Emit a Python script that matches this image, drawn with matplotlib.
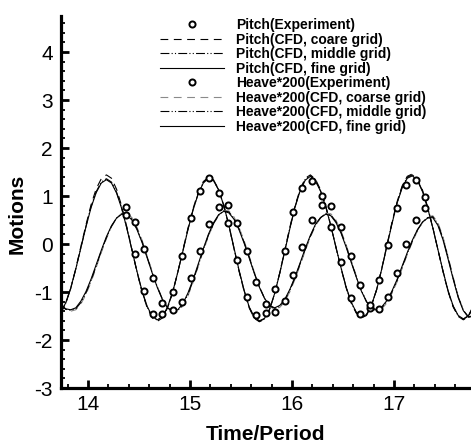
import matplotlib
matplotlib.use("Agg")
import matplotlib.pyplot as plt
from matplotlib.ticker import MultipleLocator

plt.rcParams['font.family'] = ['Liberation Sans', 'DejaVu Sans']
plt.rcParams['axes.unicode_minus'] = False

# ---------------- data ----------------
time_exp = [14.37, 14.46, 14.55, 14.64, 14.73, 14.83, 14.92, 15.01, 15.10, 15.19,
            15.28, 15.375, 15.465, 15.56, 15.65, 15.745, 15.83, 15.93, 16.01, 16.10,
            16.20, 16.29, 16.38, 16.48, 16.575, 16.67, 16.76, 16.85, 16.94, 17.03,
            17.12, 17.215, 17.30]
pitch_exp = [0.60, -0.21, -0.98, -1.46, -1.46, -1.01, -0.26, 0.55, 1.11, 1.37,
             1.06, 0.44, -0.34, -1.10, -1.48, -1.44, -0.94, -0.14, 0.67, 1.16,
             1.31, 1.01, 0.35, -0.37, -1.13, -1.46, -1.33, -0.76, -0.02, 0.76,
             1.23, 1.33, 0.97]
heave_exp = [0.78, 0.45, -0.11, -0.71, -1.22, -1.375, -1.20, -0.71, -0.15, 0.42,
             0.78, 0.81, 0.44, -0.15, -0.80, -1.24, -1.42, -1.18, -0.65, -0.06,
             0.49, 0.81, 0.79, 0.36, -0.26, -0.85, -1.27, -1.36, -1.10, -0.60,
             0.01, 0.50, 0.76]

time_cfd = [13.73, 13.78, 13.83, 13.88, 13.93, 13.98, 14.03, 14.08, 14.13, 14.18,
            14.23, 14.28, 14.33, 14.38, 14.43, 14.48, 14.53, 14.58, 14.63, 14.68,
            14.73, 14.78, 14.83, 14.88, 14.93, 14.98, 15.03, 15.08, 15.13, 15.18,
            15.23, 15.28, 15.33, 15.38, 15.43, 15.48, 15.53, 15.58, 15.63, 15.68,
            15.73, 15.78, 15.83, 15.88, 15.93, 15.98, 16.03, 16.08, 16.13, 16.18,
            16.23, 16.28, 16.33, 16.38, 16.43, 16.48, 16.53, 16.58, 16.63, 16.68,
            16.73, 16.78, 16.83, 16.88, 16.93, 16.98, 17.03, 17.08, 17.13, 17.18,
            17.23, 17.28, 17.33, 17.38, 17.43, 17.48, 17.53, 17.58, 17.63, 17.68,
            17.73, 17.78]

pitch_coarse = [-1.45, -1.25, -0.93, -0.51, -0.05, 0.40, 0.82, 1.15, 1.36, 1.44,
                1.37, 1.14, 0.79, 0.36, -0.11, -0.58, -1.00, -1.33, -1.54, -1.61,
                -1.54, -1.33, -1.01, -0.59, -0.13, 0.33, 0.74, 1.07, 1.30, 1.39,
                1.34, 1.14, 0.81, 0.39, -0.09, -0.56, -0.98, -1.33, -1.55, -1.62,
                -1.57, -1.37, -1.03, -0.60, -0.12, 0.36, 0.80, 1.14, 1.37, 1.44,
                1.35, 1.13, 0.80, 0.39, -0.06, -0.50, -0.91, -1.23, -1.44, -1.54,
                -1.49, -1.28, -0.95, -0.51, -0.03, 0.45, 0.88, 1.21, 1.41, 1.46,
                1.36, 1.12, 0.77, 0.35, -0.11, -0.57, -0.99, -1.31, -1.51, -1.58,
                -1.51, -1.30]
pitch_middle = [-1.44, -1.24, -0.93, -0.52, -0.07, 0.37, 0.78, 1.09, 1.29, 1.36,
                1.29, 1.08, 0.75, 0.34, -0.12, -0.58, -0.99, -1.31, -1.52, -1.59,
                -1.52, -1.32, -1.00, -0.59, -0.14, 0.31, 0.72, 1.05, 1.28, 1.38,
                1.33, 1.13, 0.81, 0.40, -0.08, -0.55, -0.97, -1.32, -1.53, -1.61,
                -1.56, -1.36, -1.03, -0.60, -0.13, 0.34, 0.78, 1.12, 1.35, 1.42,
                1.33, 1.11, 0.79, 0.38, -0.06, -0.49, -0.90, -1.22, -1.43, -1.53,
                -1.48, -1.27, -0.95, -0.52, -0.04, 0.43, 0.86, 1.19, 1.39, 1.44,
                1.34, 1.10, 0.76, 0.34, -0.11, -0.56, -0.98, -1.30, -1.50, -1.57,
                -1.50, -1.29]
pitch_fine = [-1.43, -1.23, -0.92, -0.52, -0.08, 0.36, 0.76, 1.07, 1.27, 1.34,
              1.27, 1.06, 0.74, 0.33, -0.12, -0.57, -0.98, -1.30, -1.51, -1.58,
              -1.51, -1.31, -1.00, -0.59, -0.15, 0.30, 0.71, 1.04, 1.27, 1.37,
              1.32, 1.13, 0.81, 0.40, -0.07, -0.54, -0.96, -1.31, -1.52, -1.60,
              -1.55, -1.36, -1.03, -0.61, -0.14, 0.33, 0.77, 1.11, 1.33, 1.41,
              1.31, 1.10, 0.78, 0.38, -0.06, -0.49, -0.89, -1.21, -1.42, -1.52,
              -1.47, -1.27, -0.95, -0.52, -0.05, 0.42, 0.85, 1.17, 1.37, 1.42,
              1.32, 1.09, 0.75, 0.34, -0.11, -0.56, -0.97, -1.29, -1.49, -1.56,
              -1.49, -1.28]

heave_coarse = [-1.24, -1.36, -1.40, -1.37, -1.25, -1.05, -0.79, -0.49, -0.18, 0.11,
                0.36, 0.54, 0.64, 0.65, 0.55, 0.35, 0.08, -0.25, -0.58, -0.89,
                -1.15, -1.34, -1.43, -1.41, -1.29, -1.08, -0.80, -0.47, -0.15, 0.16,
                0.41, 0.60, 0.70, 0.69, 0.57, 0.35, 0.07, -0.25, -0.58, -0.88,
                -1.13, -1.30, -1.36, -1.32, -1.20, -0.99, -0.73, -0.44, -0.14, 0.14,
                0.38, 0.54, 0.64, 0.63, 0.50, 0.28, -0.01, -0.34, -0.66, -0.96,
                -1.20, -1.35, -1.40, -1.35, -1.23, -1.03, -0.79, -0.51, -0.22, 0.04,
                0.27, 0.45, 0.56, 0.59, 0.45, 0.15, -0.26, -0.69, -1.09, -1.38,
                -1.53, -1.52]
heave_middle = [-1.25, -1.36, -1.38, -1.35, -1.22, -1.02, -0.76, -0.46, -0.15, 0.13,
                0.37, 0.54, 0.63, 0.63, 0.52, 0.32, 0.05, -0.27, -0.60, -0.90,
                -1.15, -1.33, -1.41, -1.39, -1.26, -1.05, -0.77, -0.45, -0.12, 0.18,
                0.42, 0.60, 0.69, 0.67, 0.54, 0.32, 0.04, -0.27, -0.60, -0.89,
                -1.13, -1.29, -1.34, -1.30, -1.17, -0.96, -0.70, -0.41, -0.11, 0.16,
                0.40, 0.55, 0.63, 0.61, 0.47, 0.25, -0.04, -0.36, -0.68, -0.97,
                -1.20, -1.34, -1.38, -1.33, -1.20, -1.00, -0.76, -0.48, -0.20, 0.06,
                0.29, 0.45, 0.55, 0.57, 0.42, 0.12, -0.28, -0.71, -1.10, -1.38,
                -1.52, -1.50]
heave_fine = [-1.25, -1.35, -1.37, -1.33, -1.19, -0.99, -0.73, -0.43, -0.13, 0.15,
              0.38, 0.54, 0.62, 0.61, 0.50, 0.30, 0.03, -0.29, -0.61, -0.91,
              -1.16, -1.33, -1.40, -1.37, -1.24, -1.02, -0.74, -0.42, -0.10, 0.20,
              0.44, 0.61, 0.68, 0.65, 0.52, 0.30, 0.02, -0.29, -0.61, -0.90,
              -1.13, -1.28, -1.33, -1.28, -1.15, -0.94, -0.68, -0.39, -0.09, 0.18,
              0.41, 0.55, 0.62, 0.59, 0.45, 0.23, -0.06, -0.38, -0.69, -0.98,
              -1.20, -1.33, -1.37, -1.31, -1.18, -0.98, -0.74, -0.46, -0.18, 0.08,
              0.30, 0.46, 0.54, 0.55, 0.39, 0.09, -0.31, -0.73, -1.12, -1.39,
              -1.52, -1.49]

labels = ["Pitch(Experiment)", "Pitch(CFD, coare grid)", "Pitch(CFD, middle grid)",
          "Pitch(CFD, fine grid)", "Heave*200(Experiment)", "Heave*200(CFD, coarse grid)",
          "Heave*200(CFD, middle grid)", "Heave*200(CFD, fine grid)"]

# ---------------- figure ----------------
fig = plt.figure(figsize=(4.71, 4.45), dpi=100)
ax = fig.add_axes([61/471, 57/445, 410/471, 372/445])

lw = 0.8
dash = (0, (7, 5))
dashdot = (0, (8, 2, 1, 2, 1, 2))
mk = dict(marker='o', ms=4.4, mfc='white', mec='black', mew=1.4, ls='none')

h1, = ax.plot(time_exp, pitch_exp, **mk, zorder=5)
h2, = ax.plot(time_cfd, pitch_coarse, color='black', lw=lw, ls=dash)
h3, = ax.plot(time_cfd, pitch_middle, color='black', lw=lw, ls=dashdot)
h4, = ax.plot(time_cfd, pitch_fine, color='black', lw=lw, ls='-')
h5, = ax.plot(time_exp, heave_exp, **mk, zorder=5)
h6, = ax.plot(time_cfd, heave_coarse, color='#8a8a8a', lw=lw, ls=dash)
h7, = ax.plot(time_cfd, heave_middle, color='black', lw=lw, ls=dashdot)
h8, = ax.plot(time_cfd, heave_fine, color='black', lw=lw, ls='-')

ax.set_xlim(13.735, 17.755)
ax.set_ylim(-3, 4.75)

ax.xaxis.set_major_locator(MultipleLocator(1))
ax.xaxis.set_minor_locator(MultipleLocator(0.2))
ax.yaxis.set_major_locator(MultipleLocator(1))
ax.yaxis.set_minor_locator(MultipleLocator(0.2))

for s in ['top', 'right']:
    ax.spines[s].set_visible(False)
for s in ['left', 'bottom']:
    ax.spines[s].set_linewidth(2.3)

ax.tick_params(which='major', direction='in', length=5.5, width=2.0,
               labelsize=15, pad=5)
ax.tick_params(which='minor', direction='in', length=3, width=1.3)
ax.tick_params(axis='y', which='major', pad=6)

ax.set_xlabel("Time/Period", fontsize=15, fontweight='bold', labelpad=8)
ax.set_ylabel("Motions", fontsize=15, fontweight='bold')
ax.yaxis.set_label_coords(-0.083, 0.468)

leg = ax.legend([h1, h2, h3, h4, h5, h6, h7, h8], labels,
                loc='upper left', bbox_to_anchor=(160/471, 1 - 18/445),
                bbox_transform=fig.transFigure, frameon=False,
                prop={'family': 'Liberation Sans', 'weight': 'bold', 'size': 10},
                handlelength=4.6, handletextpad=0.85, labelspacing=0.04,
                borderpad=0, borderaxespad=0, numpoints=1)

fig.savefig("out.png", dpi=100)
